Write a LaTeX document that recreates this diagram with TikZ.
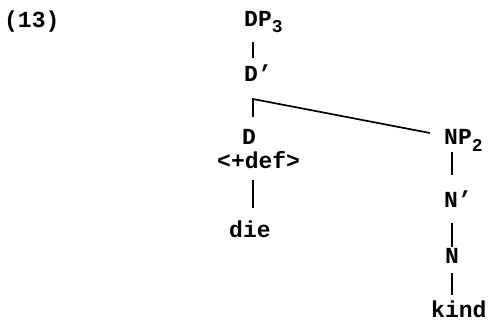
\documentclass[tikz,border=0pt]{standalone}
\usepackage{fontspec}
\setmainfont{Liberation Mono}
\usetikzlibrary{calc}
\newcommand\lblsub[1]{\raisebox{-6pt}{\fontsize{18}{20}\selectfont #1}}
\begin{document}
\begin{tikzpicture}[x=1pt,y=-1pt,
  lbl/.style={inner sep=0pt, anchor=base west, font=\fontsize{23}{26}\selectfont\bfseries},
  edge/.style={line width=1.7pt}]
\useasboundingbox (0,0) rectangle (489,323);
\node[lbl] (ex) at (4,28) {(13)};
\node[lbl] (dp3) at (244,27) {DP\lblsub{3}};
\node[lbl] (dbar) at (244,82) {D'};
\node[lbl] (d) at (242,145) {D};
\node[lbl] (def) at (217,168) {<+def>};
\node[lbl] (die) at (229,237) {die};
\node[lbl] (np2) at (444,145) {NP\lblsub{2}};
\node[lbl] (nbar) at (444,207) {N'};
\node[lbl] (n) at (445,263) {N};
\node[lbl] (kind) at (431,317) {kind};
\coordinate (c) at ($(dbar.base west)+(9,17)$);
\draw[edge] ($(dp3.base west)+(9,15)$) -- ($(dbar.base west)+(9,-24)$);
\draw[edge] ($(d.base west)+(11,-28)$) -- (c) -- ($(np2.base west)+(-14,-12)$);
\draw[edge] ($(def.base west)+(36,12)$) -- ($(die.base west)+(24,-29)$);
\draw[edge] ($(np2.base west)+(8,7)$) -- ($(nbar.base west)+(8,-32)$);
\draw[edge] ($(nbar.base west)+(8,16)$) -- ($(n.base west)+(7,-16)$);
\draw[edge] ($(n.base west)+(7,10)$) -- ($(kind.base west)+(21,-22)$);
\end{tikzpicture}
\end{document}
